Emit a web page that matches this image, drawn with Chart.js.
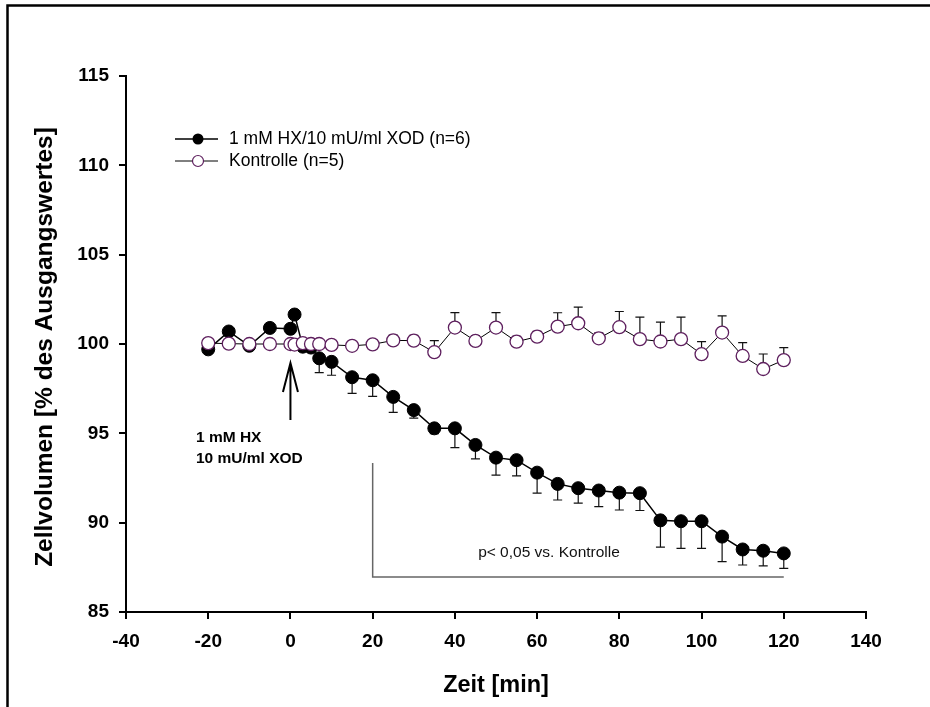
<!DOCTYPE html>
<html>
<head>
<meta charset="utf-8">
<script src="https://cdn.jsdelivr.net/npm/chart.js@4/dist/chart.umd.min.js"></script>
<style>
html,body{margin:0;padding:0;background:#fff;}
canvas{display:block;}
</style>
</head>
<body>
<canvas id="c" width="930" height="707"></canvas>
<script>
const times = [-20,-15,-10,-5,0,1,3,5,7,10,15,20,25,30,35,40,45,50,55,60,65,70,75,80,85,90,95,100,105,110,115,120];
const hxValues = [99.7,100.7,99.9,100.9,100.85,101.65,99.85,99.8,99.2,99.0,98.14,97.97,97.04,96.3,95.28,95.28,94.35,93.64,93.5,92.8,92.17,91.93,91.8,91.68,91.65,90.13,90.08,90.08,89.22,88.5,88.43,88.28];
const hxErr = [0.2,0.2,0.2,0.2,0.2,0.2,0.2,0.2,0.8,0.75,0.9,0.9,0.87,0.45,0.3,1.08,0.78,0.98,0.88,1.15,0.9,0.84,0.9,0.97,0.97,1.5,1.52,1.52,1.4,0.87,0.85,0.84];
const konValues = [100.05,100.02,100.0,100.0,100.0,99.97,100.05,100.0,100.0,99.95,99.9,99.98,100.2,100.19,99.54,100.92,100.17,100.92,100.13,100.41,100.97,101.16,100.32,100.94,100.27,100.14,100.27,99.43,100.64,99.33,98.6,99.1];
const konErr = [0.2,0.2,0.2,0.2,0.2,0.2,0.2,0.2,0.2,0.2,0.2,0.2,0.3,0.3,0.65,0.84,0.3,0.84,0.3,0.3,0.78,0.9,0.3,0.88,1.23,1.08,1.23,0.7,0.93,0.75,0.84,0.7];
const xTicks = [-40,-20,0,20,40,60,80,100,120,140];
const yTicks = [85,90,95,100,105,110,115];
const legendLabels = ['1 mM HX/10 mU/ml XOD (n=6)','Kontrolle (n=5)'];
const xTitle = 'Zeit [min]';
const yTitle = 'Zellvolumen [% des Ausgangswertes]';
const arrowX = 0, arrowTop = 98.94, arrowBottom = 95.75;
const arrowText = ['1 mM HX','10 mU/ml XOD'];
const sigStart = 20, sigEnd = 120, sigTop = 93.34, sigBottom = 86.96;
const sigText = 'p< 0,05 vs. Kontrolle';

const FONT = '"Liberation Sans", Arial, Helvetica, sans-serif';
const purple = '#5e1f5e';

const hxData = times.map((t,i)=>({x:t,y:hxValues[i]}));
const konData = times.map((t,i)=>({x:t,y:konValues[i]}));

const errPlugin = {
  id:'errbars',
  beforeDatasetsDraw(chart){
    const ctx = chart.ctx, xs = chart.scales.x, ys = chart.scales.y;
    ctx.save();
    ctx.strokeStyle = '#111';
    ctx.lineWidth = 1.2;
    const draw = (vals, errs, dir) => {
      times.forEach((t,i)=>{
        const px = xs.getPixelForValue(t);
        const p0 = ys.getPixelForValue(vals[i]);
        const p1 = ys.getPixelForValue(vals[i] + dir*errs[i]);
        ctx.beginPath();
        ctx.moveTo(px,p0); ctx.lineTo(px,p1);
        ctx.moveTo(px-4.5,p1); ctx.lineTo(px+4.5,p1);
        ctx.stroke();
      });
    };
    draw(hxValues, hxErr, -1);
    draw(konValues, konErr, 1);
    ctx.restore();
  }
};

const decoPlugin = {
  id:'deco',
  afterDraw(chart){
    const ctx = chart.ctx, xs = chart.scales.x, ys = chart.scales.y;
    const ca = chart.chartArea;
    ctx.save();
    // frame
    ctx.strokeStyle = '#000';
    ctx.lineWidth = 2.5;
    ctx.beginPath();
    ctx.moveTo(7.5,707); ctx.lineTo(7.5,5.5); ctx.lineTo(930,5.5);
    ctx.stroke();
    // axis titles
    ctx.fillStyle = '#000';
    ctx.font = 'bold 23.5px ' + FONT;
    ctx.textAlign = 'center';
    ctx.textBaseline = 'middle';
    ctx.fillText(xTitle, (ca.left+ca.right)/2, 686);
    ctx.save();
    ctx.translate(45, 347);
    ctx.rotate(-Math.PI/2);
    ctx.font = 'bold 24.5px ' + FONT;
    ctx.fillText(yTitle, 0, 0);
    ctx.restore();
    // legend
    const lx0 = 175, lx1 = 218, mx = 198, ly = [139, 161], tx = 229;
    ctx.font = '17.5px ' + FONT;
    ctx.textAlign = 'left';
    ctx.textBaseline = 'middle';
    for (let i=0;i<2;i++){
      ctx.strokeStyle = '#000';
      ctx.lineWidth = i===0 ? 1.5 : 1;
      ctx.beginPath(); ctx.moveTo(lx0, ly[i]); ctx.lineTo(lx1, ly[i]); ctx.stroke();
      ctx.beginPath(); ctx.arc(mx, ly[i], 5.5, 0, Math.PI*2);
      if (i===0){ ctx.fillStyle='#000'; ctx.fill(); }
      else { ctx.fillStyle='#fff'; ctx.fill(); ctx.strokeStyle=purple; ctx.lineWidth=1.2; ctx.stroke(); }
      ctx.fillStyle = '#000';
      ctx.fillText(legendLabels[i], tx, ly[i]);
    }
    // arrow
    const ax = xs.getPixelForValue(arrowX);
    const at = ys.getPixelForValue(arrowTop), ab = ys.getPixelForValue(arrowBottom);
    ctx.strokeStyle = '#000';
    ctx.lineWidth = 2;
    ctx.beginPath();
    ctx.moveTo(ax, ab); ctx.lineTo(ax, at);
    ctx.moveTo(ax-7.5, at+29); ctx.lineTo(ax, at); ctx.lineTo(ax+7.5, at+29);
    ctx.stroke();
    ctx.font = 'bold 15.5px ' + FONT;
    ctx.textAlign = 'left';
    ctx.fillText(arrowText[0], 196, 438);
    ctx.fillText(arrowText[1], 196, 459);
    // significance bracket
    const sx0 = xs.getPixelForValue(sigStart), sx1 = xs.getPixelForValue(sigEnd);
    const st = ys.getPixelForValue(sigTop), sb = ys.getPixelForValue(sigBottom);
    ctx.strokeStyle = '#666';
    ctx.lineWidth = 1.5;
    ctx.beginPath();
    ctx.moveTo(sx0, st); ctx.lineTo(sx0, sb); ctx.lineTo(sx1, sb);
    ctx.stroke();
    ctx.font = '15.5px ' + FONT;
    ctx.textAlign = 'center';
    ctx.fillStyle = '#111';
    ctx.fillText(sigText, 549, 553);
    ctx.restore();
  }
};

new Chart(document.getElementById('c'), {
  type:'scatter',
  data:{
    datasets:[
      {
        label: legendLabels[1], data: konData, showLine:true, order:0,
        borderColor:'#000', borderWidth:1,
        pointRadius:6.5, pointBackgroundColor:'#fff', pointBorderColor:purple, pointBorderWidth:1.3,
        pointHoverRadius:6.5
      },
      {
        label: legendLabels[0], data: hxData, showLine:true, order:1,
        borderColor:'#000', borderWidth:1.5,
        pointRadius:6.5, pointBackgroundColor:'#000', pointBorderColor:'#000', pointBorderWidth:1,
        pointHoverRadius:6.5
      }
    ]
  },
  options:{
    responsive:false,
    animation:false,
    devicePixelRatio:1,
    layout:{padding:{left:0,right:64,top:76,bottom:0}},
    plugins:{legend:{display:false},tooltip:{enabled:false}},
    scales:{
      x:{
        type:'linear', min:-40, max:140,
        afterBuildTicks(s){ s.ticks = xTicks.map(v=>({value:v})); },
        afterFit(s){ s.height = 95; },
        grid:{drawOnChartArea:false, drawTicks:true, tickLength:7, color:'#000', lineWidth:2},
        border:{color:'#000', width:2},
        ticks:{color:'#000', font:{family:FONT, size:19, weight:'bold'}, padding:11, maxRotation:0, autoSkip:false}
      },
      y:{
        type:'linear', min:85, max:115,
        afterBuildTicks(s){ s.ticks = yTicks.map(v=>({value:v})); },
        afterFit(s){ s.width = 126; },
        grid:{drawOnChartArea:false, drawTicks:true, tickLength:7, color:'#000', lineWidth:2},
        border:{color:'#000', width:2},
        ticks:{color:'#000', font:{family:FONT, size:19, weight:'bold'}, padding:10, autoSkip:false}
      }
    }
  },
  plugins:[errPlugin, decoPlugin]
});
</script>
</body>
</html>
